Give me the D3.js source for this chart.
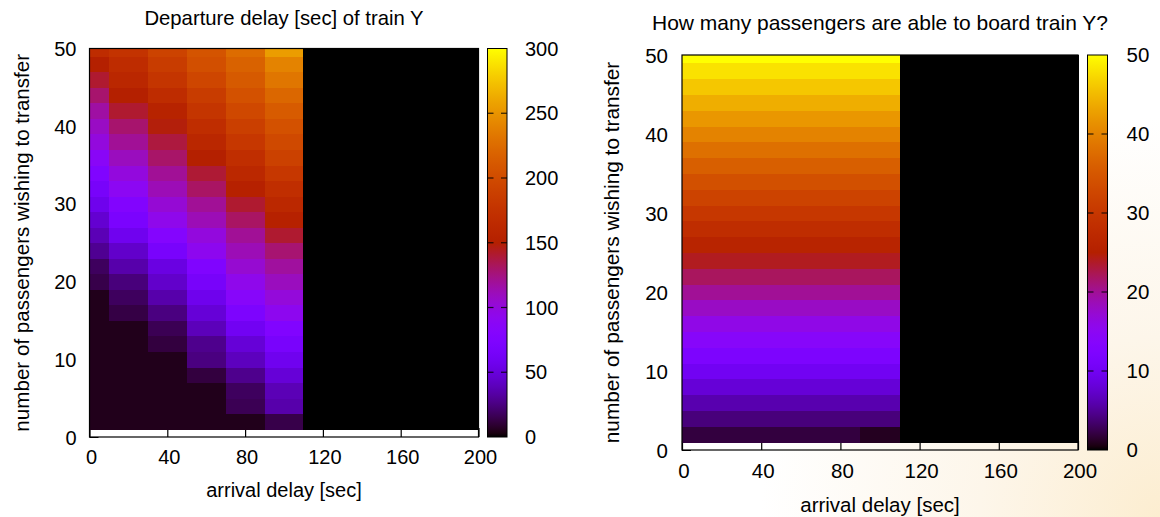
<!DOCTYPE html>
<html>
<head>
<meta charset="utf-8">
<script src="https://cdn.jsdelivr.net/npm/d3@7"></script>
<style>
  body { margin: 0; background: #fff; }
  svg { display: block; }
  text { font-family: "Liberation Sans", Arial, Helvetica, sans-serif; fill: #000; }
</style>
</head>
<body>
<svg id="chart" width="1160" height="517"></svg>
<script>
// Grid coordinates of the simulation runs
const arrivalDelays = [0, 20, 40, 60, 80, 100, 120, 140, 160, 180, 200];
const passengerCounts = [2, 4, 6, 8, 10, 12, 14, 16, 18, 20, 22, 24, 26, 28, 30, 32, 34, 36, 38, 40, 42, 44, 46, 48, 50];

// Departure delay of train Y [sec]; one row per passenger count (2 .. 50), one column per arrival delay
const departureDelay = [
  [  5,   5,   5,   5,   5,  14, 0, 0, 0, 0, 0],
  [  5,   5,   5,   5,  16,  35, 0, 0, 0, 0, 0],
  [  5,   5,   5,   5,  18,  38, 0, 0, 0, 0, 0],
  [  5,   5,   5,  12,  28,  48, 0, 0, 0, 0, 0],
  [  5,   5,   5,  25,  40,  58, 0, 0, 0, 0, 0],
  [  5,   5,  12,  28,  48,  68, 0, 0, 0, 0, 0],
  [  5,   5,  16,  39,  60,  77, 0, 0, 0, 0, 0],
  [  5,  13,  25,  48,  72,  92, 0, 0, 0, 0, 0],
  [  5,  18,  35,  57,  84, 101, 0, 0, 0, 0, 0],
  [ 14,  24,  44,  66,  94, 110, 0, 0, 0, 0, 0],
  [ 18,  35,  52,  76, 104, 118, 0, 0, 0, 0, 0],
  [ 29,  44,  68,  92, 112, 128, 0, 0, 0, 0, 0],
  [ 38,  58,  80, 100, 120, 141, 0, 0, 0, 0, 0],
  [ 46,  70,  94, 112, 131, 152, 0, 0, 0, 0, 0],
  [ 57,  78, 103, 120, 141, 162, 0, 0, 0, 0, 0],
  [ 66,  90, 112, 131, 152, 170, 0, 0, 0, 0, 0],
  [ 75, 100, 120, 140, 162, 180, 0, 0, 0, 0, 0],
  [ 87, 110, 130, 150, 170, 190, 0, 0, 0, 0, 0],
  [100, 120, 138, 160, 180, 198, 0, 0, 0, 0, 0],
  [108, 129, 148, 168, 188, 205, 0, 0, 0, 0, 0],
  [117, 141, 155, 178, 197, 213, 0, 0, 0, 0, 0],
  [129, 150, 167, 185, 205, 222, 0, 0, 0, 0, 0],
  [141, 160, 178, 195, 212, 232, 0, 0, 0, 0, 0],
  [150, 167, 185, 203, 218, 240, 0, 0, 0, 0, 0],
  [167, 175, 192, 207, 225, 255, 0, 0, 0, 0, 0]
];

// Passengers able to board train Y; same grid layout
const boardingPassengers = [
  [ 2,  2,  2,  2,  2,  1, 0, 0, 0, 0, 0],
  [ 4,  4,  4,  4,  4,  4, 0, 0, 0, 0, 0],
  [ 6,  6,  6,  6,  6,  6, 0, 0, 0, 0, 0],
  [ 8,  8,  8,  8,  8,  8, 0, 0, 0, 0, 0],
  [10, 10, 10, 10, 10, 10, 0, 0, 0, 0, 0],
  [12, 12, 12, 12, 12, 12, 0, 0, 0, 0, 0],
  [14, 14, 14, 14, 14, 14, 0, 0, 0, 0, 0],
  [16, 16, 16, 16, 16, 16, 0, 0, 0, 0, 0],
  [18, 18, 18, 18, 18, 18, 0, 0, 0, 0, 0],
  [20, 20, 20, 20, 20, 20, 0, 0, 0, 0, 0],
  [22, 22, 22, 22, 22, 22, 0, 0, 0, 0, 0],
  [24, 24, 24, 24, 24, 24, 0, 0, 0, 0, 0],
  [26, 26, 26, 26, 26, 26, 0, 0, 0, 0, 0],
  [28, 28, 28, 28, 28, 28, 0, 0, 0, 0, 0],
  [30, 30, 30, 30, 30, 30, 0, 0, 0, 0, 0],
  [32, 32, 32, 32, 32, 32, 0, 0, 0, 0, 0],
  [34, 34, 34, 34, 34, 34, 0, 0, 0, 0, 0],
  [36, 36, 36, 36, 36, 36, 0, 0, 0, 0, 0],
  [38, 38, 38, 38, 38, 38, 0, 0, 0, 0, 0],
  [40, 40, 40, 40, 40, 40, 0, 0, 0, 0, 0],
  [42, 42, 42, 42, 42, 42, 0, 0, 0, 0, 0],
  [44, 44, 44, 44, 44, 44, 0, 0, 0, 0, 0],
  [46, 46, 46, 46, 46, 46, 0, 0, 0, 0, 0],
  [48, 48, 48, 48, 48, 48, 0, 0, 0, 0, 0],
  [50, 50, 50, 50, 50, 50, 0, 0, 0, 0, 0]
];

const xTickValues = [0, 40, 80, 120, 160, 200];
const yTickValues = [0, 10, 20, 30, 40, 50];
const departureCbTicks = [0, 50, 100, 150, 200, 250, 300];
const boardingCbTicks = [0, 10, 20, 30, 40, 50];

// gnuplot's default pm3d palette (rgbformulae 7,5,15)
function pm3d(t) {
  t = Math.max(0, Math.min(1, t));
  const r = Math.sqrt(t);
  const g = t * t * t;
  const b = Math.max(0, Math.sin(2 * Math.PI * t));
  return d3.rgb(Math.round(255 * r), Math.round(255 * g), Math.round(255 * b)).formatHex();
}

const svg = d3.select("#chart");
const defs = svg.append("defs");

// warm glow in the lower right corner of the page
const glow = defs.append("radialGradient").attr("id", "glow")
  .attr("gradientUnits", "userSpaceOnUse")
  .attr("cx", 1160).attr("cy", 517).attr("r", 400);
glow.append("stop").attr("offset", 0).attr("stop-color", "#fcedd0");
glow.append("stop").attr("offset", 0.45).attr("stop-color", "#fdf6ea");
glow.append("stop").attr("offset", 1).attr("stop-color", "#ffffff");
svg.append("rect").attr("width", 1160).attr("height", 517).attr("fill", "#fff");
svg.append("rect").attr("width", 1160).attr("height", 517).attr("fill", "url(#glow)");

function heatmap(cfg) {
  const g = svg.append("g");
  const x = d3.scaleLinear().domain([0, 200]).range([cfg.left, cfg.right]);
  const y = d3.scaleLinear().domain([0, 50]).range([cfg.bottom, cfg.top]);
  const color = d3.scaleSequential(pm3d).domain(cfg.cbDomain);
  const fs = cfg.fontSize;

  // axis ticks (drawn first, the cells cover them like in gnuplot)
  const xAxis = d3.axisBottom(x).tickValues(xTickValues).tickSize(-9).tickPadding(0).tickFormat(d3.format("d"));
  const gx = g.append("g").attr("transform", `translate(0,${cfg.bottom})`).call(xAxis);
  gx.select(".domain").remove();
  gx.selectAll(".tick line").attr("stroke", "#000").attr("stroke-width", 1.2);
  gx.selectAll(".tick text")
    .attr("y", cfg.xLabelDy).attr("dy", "0.35em").attr("dx", 1.5)
    .style("font-size", fs + "px").style("font-family", "Liberation Sans, Arial, sans-serif");

  const yAxis = d3.axisLeft(y).tickValues(yTickValues).tickSize(-9).tickPadding(0).tickFormat(d3.format("d"));
  const gy = g.append("g").attr("transform", `translate(${cfg.left},0)`).call(yAxis);
  gy.select(".domain").remove();
  gy.selectAll(".tick line").attr("stroke", "#000");
  gy.selectAll(".tick text")
    .attr("x", -cfg.yLabelGap).attr("dy", "0.35em")
    .style("font-size", fs + "px").style("font-family", "Liberation Sans, Arial, sans-serif");

  // cells: each value fills the region halfway to its neighbours, clipped to the axis ranges
  const hx = (arrivalDelays[1] - arrivalDelays[0]) / 2;
  const hy = (passengerCounts[1] - passengerCounts[0]) / 2;
  const cells = [];
  passengerCounts.forEach((p, i) => arrivalDelays.forEach((a, j) => cells.push({ a, p, v: cfg.values[i][j] })));
  g.append("g").attr("shape-rendering", "crispEdges")
    .selectAll("rect").data(cells).join("rect")
    .attr("x", d => x(Math.max(0, d.a - hx)))
    .attr("width", d => x(Math.min(200, d.a + hx)) - x(Math.max(0, d.a - hx)) + 0.5)
    .attr("y", d => y(Math.min(50, d.p + hy)))
    .attr("height", d => y(Math.max(0, d.p - hy)) - y(Math.min(50, d.p + hy)) + 0.5)
    .attr("fill", d => color(d.v));

  // plot border
  g.append("rect")
    .attr("x", cfg.left).attr("y", cfg.top)
    .attr("width", cfg.right - cfg.left).attr("height", cfg.bottom - cfg.top)
    .attr("fill", "none").attr("stroke", "#000").attr("stroke-width", 1.2);

  // titles
  g.append("text").attr("x", (cfg.left + cfg.right) / 2).attr("y", cfg.titleY)
    .attr("text-anchor", "middle").attr("dy", "0.35em")
    .style("font-size", cfg.titleSize + "px").text(cfg.title);
  g.append("text").attr("x", (cfg.left + cfg.right) / 2).attr("y", cfg.xTitleY)
    .attr("text-anchor", "middle").attr("dy", "0.35em")
    .style("font-size", fs + "px").text("arrival delay [sec]");
  g.append("text")
    .attr("transform", `translate(${cfg.yTitleX},${(cfg.top + cfg.bottom) / 2}) rotate(-90)`)
    .attr("text-anchor", "middle").attr("dy", "0.35em")
    .style("font-size", cfg.yTitleSize + "px").text("number of passengers wishing to transfer");

  // colour box
  const gid = "cb" + cfg.id;
  const grad = defs.append("linearGradient").attr("id", gid)
    .attr("x1", 0).attr("y1", 1).attr("x2", 0).attr("y2", 0);
  d3.range(0, 1.0001, 0.01).forEach(t => {
    grad.append("stop").attr("offset", t).attr("stop-color", pm3d(t));
  });
  const cb = d3.scaleLinear().domain(cfg.cbDomain).range([cfg.bottom, cfg.top]);
  const cg = g.append("g");
  cg.append("rect")
    .attr("x", cfg.cbLeft).attr("y", cfg.top)
    .attr("width", cfg.cbWidth).attr("height", cfg.bottom - cfg.top)
    .attr("fill", `url(#${gid})`).attr("stroke", "#000").attr("stroke-width", 1);
  const inner = cfg.cbTicks.slice(1, -1);
  cg.selectAll("line.l").data(inner).join("line")
    .attr("x1", cfg.cbLeft).attr("x2", cfg.cbLeft + 6)
    .attr("y1", d => cb(d)).attr("y2", d => cb(d))
    .attr("stroke", "#000").attr("stroke-width", 1.2).attr("stroke-opacity", 0.8);
  cg.selectAll("line.r").data(inner).join("line")
    .attr("x1", cfg.cbLeft + cfg.cbWidth - 6).attr("x2", cfg.cbLeft + cfg.cbWidth)
    .attr("y1", d => cb(d)).attr("y2", d => cb(d))
    .attr("stroke", "#000").attr("stroke-width", 1.2).attr("stroke-opacity", 0.8);
  cg.selectAll("text").data(cfg.cbTicks).join("text")
    .attr("x", cfg.cbLeft + cfg.cbWidth + cfg.cbLabelGap)
    .attr("y", d => cb(d)).attr("dy", "0.35em")
    .style("font-size", fs + "px").text(d => d);
}

heatmap({
  id: "dep", values: departureDelay, cbDomain: [0, 300], cbTicks: departureCbTicks,
  left: 89.5, right: 478.5, top: 48.5, bottom: 437,
  cbLeft: 487.5, cbWidth: 19.5, cbLabelGap: 18,
  fontSize: 20, titleSize: 20.3, yTitleSize: 20.6, titleY: 18, xTitleY: 490, yTitleX: 22,
  xLabelDy: 20, yLabelGap: 13,
  title: "Departure delay [sec] of train Y"
});

heatmap({
  id: "board", values: boardingPassengers, cbDomain: [0, 50], cbTicks: boardingCbTicks,
  left: 682, right: 1078, top: 55, bottom: 450,
  cbLeft: 1087.5, cbWidth: 20, cbLabelGap: 19,
  fontSize: 20.5, titleSize: 21, yTitleSize: 20.8, titleY: 23, xTitleY: 505, yTitleX: 612,
  xLabelDy: 20.5, yLabelGap: 14,
  title: "How many passengers are able to board train Y?"
});
</script>
</body>
</html>
